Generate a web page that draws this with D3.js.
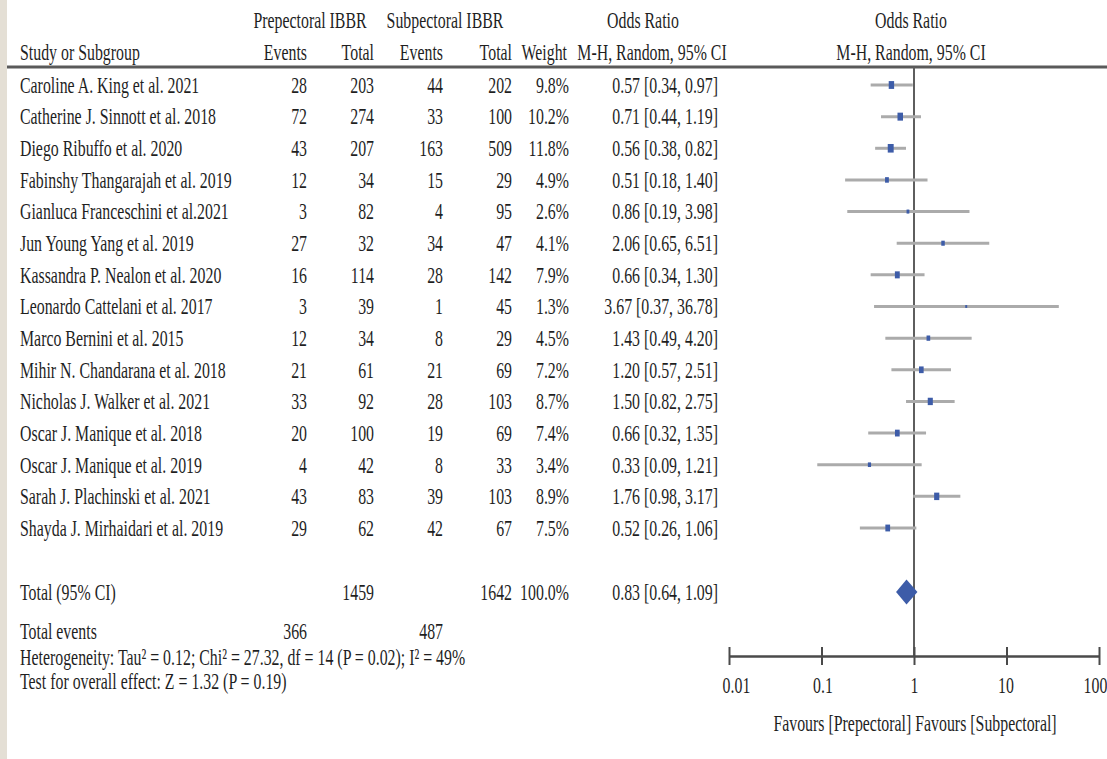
<!DOCTYPE html>
<html><head><meta charset="utf-8">
<script src="https://cdn.jsdelivr.net/npm/d3@7"></script>
<style>html,body{margin:0;padding:0;background:#fff;}svg{display:block;}</style>
</head><body>
<script>
const studies = ["Caroline A. King et al. 2021","Catherine J. Sinnott et al. 2018","Diego Ribuffo et al. 2020","Fabinshy Thangarajah et al. 2019","Gianluca Franceschini et al.2021","Jun Young Yang et al. 2019","Kassandra P. Nealon et al. 2020","Leonardo Cattelani et al. 2017","Marco Bernini et al. 2015","Mihir N. Chandarana et al. 2018","Nicholas J. Walker et al. 2021","Oscar J. Manique et al. 2018","Oscar J. Manique et al. 2019","Sarah J. Plachinski et al. 2021","Shayda J. Mirhaidari et al. 2019"];
const prepEvents = [28,72,43,12,3,27,16,3,12,21,33,20,4,43,29];
const prepTotal = [203,274,207,34,82,32,114,39,34,61,92,100,42,83,62];
const subEvents = [44,33,163,15,4,34,28,1,8,21,28,19,8,39,42];
const subTotal = [202,100,509,29,95,47,142,45,29,69,103,69,33,103,67];
const weights = [9.8,10.2,11.8,4.9,2.6,4.1,7.9,1.3,4.5,7.2,8.7,7.4,3.4,8.9,7.5];
const oddsRatio = [0.57,0.71,0.56,0.51,0.86,2.06,0.66,3.67,1.43,1.20,1.50,0.66,0.33,1.76,0.52];
const ciLow = [0.34,0.44,0.38,0.18,0.19,0.65,0.34,0.37,0.49,0.57,0.82,0.32,0.09,0.98,0.26];
const ciHigh = [0.97,1.19,0.82,1.40,3.98,6.51,1.30,36.78,4.20,2.51,2.75,1.35,1.21,3.17,1.06];
const total = {prepTotal:1459, subTotal:1642, weight:100.0, or:0.83, lo:0.64, hi:1.09, prepEvents:366, subEvents:487};
const axisTicks = [0.01,0.1,1,10,100];
const axisTickLabels = ["0.01","0.1","1","10","100"];
const heterogeneity = "Heterogeneity: Tau\u00B2 = 0.12; Chi\u00B2 = 27.32, df = 14 (P = 0.02); I\u00B2 = 49%";
const overallTest = "Test for overall effect: Z = 1.32 (P = 0.19)";
const favoursLabel = "Favours [Prepectoral] Favours [Subpectoral]";

const W = 1107, H = 759;
const SX = 0.69, FS = 23;
const textColor = "#1f1f1f";
const svg = d3.select("body").append("svg").attr("width", W).attr("height", H);

svg.append("rect").attr("x",0).attr("y",0).attr("width",W).attr("height",H).attr("fill","#fff");
svg.append("rect").attr("x",0).attr("y",0).attr("width",7).attr("height",H).attr("fill","#e4dfd5");

function txt(x, y, s, anchor) {
  return svg.append("text")
    .attr("transform", `translate(${x},${y}) scale(${SX},1)`)
    .attr("text-anchor", anchor || "start")
    .attr("font-family", "'Liberation Serif','Times New Roman',serif")
    .attr("font-size", FS)
    .attr("fill", textColor)
    .text(s);
}

const x = d3.scaleLog().domain([0.01, 100]).range([729, 1099]);
const y = d3.scaleLinear().domain([0, studies.length - 1]).range([85, 528]);
const BL = 7.8; // baseline offset from row centre
const f2 = d3.format(".2f");
const fw = d3.format(".1f");

// headers
txt(310, 28, "Prepectoral IBBR", "middle");
txt(445, 28, "Subpectoral IBBR", "middle");
txt(643, 28, "Odds Ratio", "middle");
txt(911, 28, "Odds Ratio", "middle");
txt(20, 60, "Study or Subgroup", "start");
txt(307, 60, "Events", "end");
txt(374, 60, "Total", "end");
txt(443, 60, "Events", "end");
txt(512, 60, "Total", "end");
txt(567, 60, "Weight", "end");
txt(652, 60, "M-H, Random, 95% CI", "middle");
txt(911, 60, "M-H, Random, 95% CI", "middle");

// header rule
svg.append("line").attr("x1",7).attr("x2",W).attr("y1",67).attr("y2",67)
  .attr("stroke","#5a5a5a").attr("stroke-width",3);

// rows
studies.forEach((s, i) => {
  const yy = y(i) + BL;
  txt(20, yy, s, "start");
  txt(307, yy, prepEvents[i], "end");
  txt(374, yy, prepTotal[i], "end");
  txt(443, yy, subEvents[i], "end");
  txt(512, yy, subTotal[i], "end");
  txt(569, yy, fw(weights[i]) + "%", "end");
  txt(718, yy, `${f2(oddsRatio[i])} [${f2(ciLow[i])}, ${f2(ciHigh[i])}]`, "end");
});

// null line
svg.append("line").attr("x1", x(1)).attr("x2", x(1)).attr("y1", 67).attr("y2", 656)
  .attr("stroke", "#5e5e5e").attr("stroke-width", 2);

// CI lines
svg.append("g").selectAll("line").data(studies).join("line")
  .attr("x1", (d,i) => x(ciLow[i])).attr("x2", (d,i) => x(ciHigh[i]))
  .attr("y1", (d,i) => y(i)).attr("y2", (d,i) => y(i))
  .attr("stroke", "#ababab").attr("stroke-width", 3);

// squares
const sq = w => 2.5*Math.sqrt(w);
svg.append("g").selectAll("rect").data(studies).join("rect")
  .attr("x", (d,i) => x(oddsRatio[i]) - sq(weights[i])*SX/2)
  .attr("y", (d,i) => y(i) - sq(weights[i])/2)
  .attr("width", (d,i) => sq(weights[i])*SX)
  .attr("height", (d,i) => sq(weights[i]))
  .attr("fill", "#3d5ca8");

// total row
const yT = 592;
txt(20, yT + BL, "Total (95% CI)", "start");
txt(374, yT + BL, total.prepTotal, "end");
txt(512, yT + BL, total.subTotal, "end");
txt(569, yT + BL, fw(total.weight) + "%", "end");
txt(718, yT + BL, `${f2(total.or)} [${f2(total.lo)}, ${f2(total.hi)}]`, "end");
const dh = 12.5;
svg.append("path")
  .attr("d", `M${x(total.lo)},${yT} L${x(total.or)},${yT-dh} L${x(total.hi)},${yT} L${x(total.or)},${yT+dh} Z`)
  .attr("fill", "#3d5ca8");

// total events etc.
txt(20, 631 + BL, "Total events", "start");
txt(307, 631 + BL, total.prepEvents, "end");
txt(443, 631 + BL, total.subEvents, "end");
txt(20, 657 + BL, heterogeneity, "start");
txt(20, 681 + BL, overallTest, "start");

// axis
const axisY = 656;
const axis = d3.axisBottom(x).tickValues(axisTicks).tickFormat((d,i) => axisTickLabels[i]).tickSize(0).tickPadding(0);
const ag = svg.append("g").attr("transform", `translate(0,${axisY})`).call(axis);
ag.select(".domain").attr("stroke", "#4a4a4a").attr("stroke-width", 2.5);
ag.selectAll(".tick line").attr("y1", -9).attr("y2", 9).attr("stroke", "#4a4a4a").attr("stroke-width", 2);
const labelShift = [7, 1, 0, -1, -4];
ag.selectAll(".tick text")
  .attr("font-family", "'Liberation Serif','Times New Roman',serif")
  .attr("font-size", FS).attr("fill", textColor)
  .attr("y", 0).attr("dy", 0)
  .attr("transform", (d,i) => `translate(${labelShift[i]},${36.5}) scale(${SX},1)`);
txt(915, 723 + BL, favoursLabel, "middle");
</script>
</body></html>
